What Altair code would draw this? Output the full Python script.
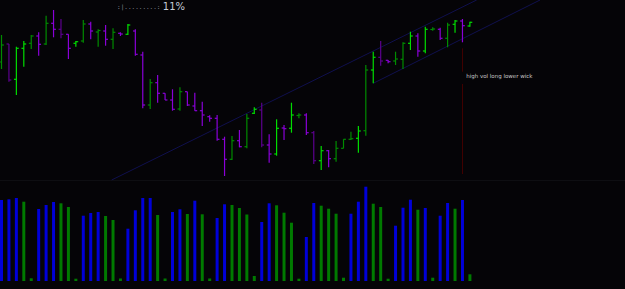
import altair as alt
import pandas as pd

# price values (vertical position units, larger = lower price)
opens  = [62, 44, 79.3, 48.3, 43.3, 36, 44, 23.3, 29.3, 34.3, 43.3, 41, 24, 32, 31, 39.3, 33.3, 34.3, 31, 55,
          105, 82.7, 93.3, 100, 109, 91.7, 106, 110.7, 116.7, 118.3, 139.3, 159.3, 140.7, 146.7, 113.3, 110, 145, 154, 128, 128.3,
          115.5, 115, 132.7, 160.7, 150.7, 158.7, 148.3, 139.3, 138.3, 130.7, 70, 57.3, 60.3, 61, 59.3, 43.3, 36, 51, 29.5, 29.3,
          38.3, 24.3, 21, 26]
highs  = [35, 44, 46.7, 41, 35, 32.3, 15.7, 10, 19, 34.3, 41, 20, 21.7, 29.3, 25, 28.3, 32.3, 24, 29.3, 51.7,
          79, 75, 93.3, 89.3, 87.3, 91.7, 92.7, 101.7, 115.3, 115, 136.7, 136, 130, 114, 107.3, 102.7, 134.3, 119.3, 125, 102.7,
          113.3, 113.3, 131, 146, 150, 141, 139.3, 131.7, 126, 65, 51.7, 41, 60, 51.7, 42.3, 31.7, 33.3, 26.7, 27.3, 27.7,
          22.7, 20, 19, 21.7]
lows   = [69, 81.7, 95, 66.7, 49, 55.7, 45, 37.3, 38.3, 59, 46.7, 42.7, 39.3, 46.7, 45.7, 49, 36, 35, 55.7, 108.3,
          109, 102.7, 100, 110.7, 110.7, 106, 110.7, 126, 121.7, 140.7, 176, 160, 147.3, 148.3, 114, 147.3, 162.7, 155.7, 140, 132.7,
          118.3, 135, 164, 170, 167.3, 161.7, 148.3, 140, 152.7, 135.7, 83.3, 65.7, 63.3, 65, 69, 50, 56.7, 53.3, 30.7, 40,
          47.3, 32.7, 42.3, 26.7]
closes = [45, 80, 48.3, 44, 36, 44.3, 23.3, 29.3, 34.3, 48.3, 41.7, 24, 31, 30.5, 39.3, 32.3, 34, 25, 54.3, 105,
          82.7, 93.3, 100, 109.3, 91.7, 105, 110.7, 115, 118.3, 139.3, 159.3, 140.7, 146.7, 118.3, 109.3, 145, 154, 128.3, 128.7, 115,
          115, 132.7, 160.7, 150.7, 158.7, 148.3, 139.3, 138.7, 131, 70, 57.3, 61, 61.7, 59, 43.3, 36, 51, 29.3, 29, 38.3,
          25, 21, 25.7, 22.3]
bar_kind = list("gpGGgPgPpPGgPgPgPGPPgPPPgPPPPPPgPgGpPGPGgPpGPgggGgGpPggGPGgPgGPG")

volumes = [81, 81.7, 83, 79.3, 2.7, 72, 76, 79, 77.7, 74, 2.3, 65.3, 68, 69, 65, 61, 2.5, 52.3, 70.7, 83,
           83, 66, 2.5, 69, 71.7, 67, 80.3, 66.7, 2.5, 63, 76.7, 76, 73, 66.5, 5, 59, 77.7, 75.7, 68.3, 58.3,
           2.3, 44, 78, 75.3, 72.3, 67.3, 3.3, 67.3, 79.3, 94.3, 77.3, 74, 2.3, 55.3, 73.3, 81.3, 71.3, 73, 3.3, 65.3,
           78, 72.3, 81, 6.7]
vol_kind = list("BBBGGBBBGGGBBBGGGBBBBGGBBGBGGBBGGGGBBGGGGBBGGGGBBBGGGBBBGBGBBGBG")

kind_colors = {"G": "#00dd00", "g": "#008c00", "P": "#8a00d8", "p": "#5c008e"}
vol_colors = {"B": "#0000d8", "G": "#007a00"}

n = len(opens)
df = pd.DataFrame({
    "i": list(range(n)), "open": opens, "high": highs, "low": lows, "close": closes,
    "col": [kind_colors[k] for k in bar_kind],
    "vol": volumes, "vcol": [vol_colors[k] for k in vol_kind],
})

# channel lines (bar index, price)
trend = pd.DataFrame({
    "i": [14.82, 63.91, 50.0, 72.43],
    "p": [180, 0, 83.3, 0],
    "seg": ["upper", "upper", "lower", "lower"],
})

W, H = 625, 289
xs = alt.Scale(domain=[-0.2017, 83.86], nice=False, zero=False)
ps = alt.Scale(domain=[289, 0], nice=False, zero=False)
vs = alt.Scale(domain=[-8, 281], nice=False, zero=False)

X = alt.X("i:Q", scale=xs, axis=None)
base = alt.Chart(df)

hl = base.mark_rule(strokeWidth=1.2).encode(
    x=X, y=alt.Y("high:Q", scale=ps, axis=None), y2="low:Q",
    color=alt.Color("col:N", scale=None))
op = base.mark_rule(strokeWidth=1.2).transform_calculate(xl="datum.i - 0.32").encode(
    x=alt.X("xl:Q", scale=xs, axis=None), x2="i:Q",
    y=alt.Y("open:Q", scale=ps, axis=None), color=alt.Color("col:N", scale=None))
cl = base.mark_rule(strokeWidth=1.2).transform_calculate(xr="datum.i + 0.32").encode(
    x=X, x2="xr:Q",
    y=alt.Y("close:Q", scale=ps, axis=None), color=alt.Color("col:N", scale=None))

sep = alt.Chart(pd.DataFrame({"p": [180.5]})).mark_rule(color="#0e0e12", strokeWidth=1).encode(
    y=alt.Y("p:Q", scale=ps, axis=None))

tl = alt.Chart(trend).mark_line(color="#10104e", strokeWidth=1, clip=True).encode(
    x=alt.X("i:Q", scale=xs, axis=None), y=alt.Y("p:Q", scale=ps, axis=None), detail="seg:N")

red = alt.Chart(pd.DataFrame({"i": [62, 62], "a": [48.3, 84], "b": [71.7, 174]})).mark_rule(
    color="#420000", strokeWidth=1).encode(
    x=alt.X("i:Q", scale=xs, axis=None), y=alt.Y("a:Q", scale=ps, axis=None), y2="b:Q")

note = alt.Chart(pd.DataFrame({"i": [62.5], "p": [75.7], "t": ["high vol long lower wick"]})).mark_text(
    align="left", baseline="middle", fontSize=5.5, font="DejaVu Sans", color="#c8c8c8").encode(
    x=alt.X("i:Q", scale=xs, axis=None), y=alt.Y("p:Q", scale=ps, axis=None), text="t:N")

top_dots = alt.Chart(pd.DataFrame({"i": [15.55], "p": [6.5], "t": [":|.........:"]})).mark_text(
    align="left", baseline="middle", fontSize=6, font="DejaVu Sans Mono", color="#8a8f99").encode(
    x=alt.X("i:Q", scale=xs, axis=None), y=alt.Y("p:Q", scale=ps, axis=None), text="t:N")
top_pct = alt.Chart(pd.DataFrame({"i": [21.7], "p": [6.5], "t": ["11%"]})).mark_text(
    align="left", baseline="middle", fontSize=10, font="DejaVu Sans", color="#c4ccd8").encode(
    x=alt.X("i:Q", scale=xs, axis=None), y=alt.Y("p:Q", scale=ps, axis=None), text="t:N")

vol = base.mark_rule(strokeWidth=3).encode(
    x=X, y=alt.Y("vol:Q", scale=vs, axis=None), y2=alt.datum(0),
    color=alt.Color("vcol:N", scale=None))

chart = alt.layer(sep, tl, red, hl, op, cl, note, top_dots, top_pct, vol).resolve_scale(
    y="independent").properties(
    width=W, height=H, background="#050407", padding=0,
    autosize=alt.AutoSizeParams(type="none")
).configure_view(stroke=None)

chart.save("out.html", embed_options={"renderer": "svg", "actions": False})
